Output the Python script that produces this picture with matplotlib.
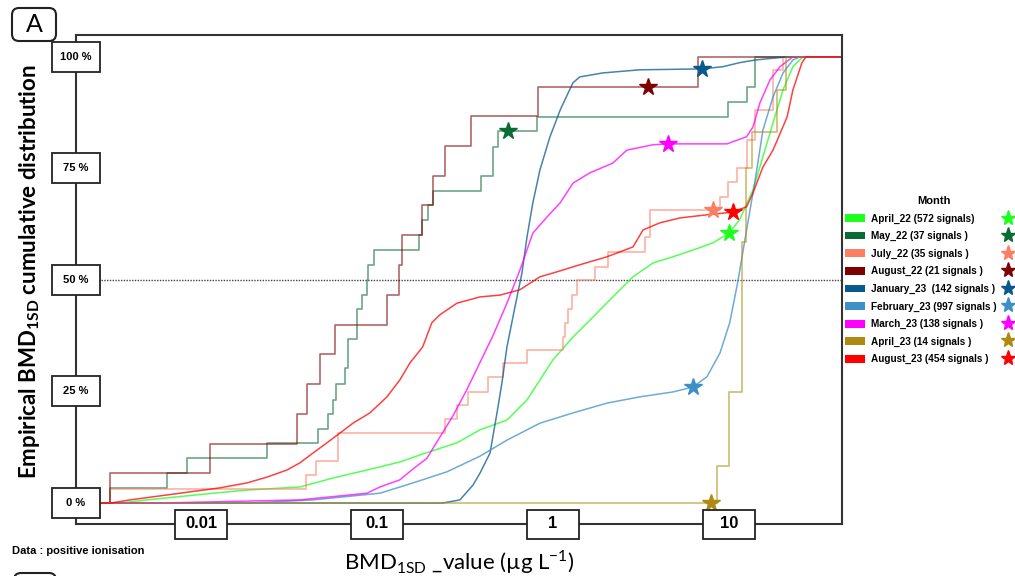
import matplotlib.pyplot as plt
import matplotlib.transforms as mtransforms
from matplotlib.patches import Rectangle, FancyBboxPatch, Patch
from matplotlib.lines import Line2D

# === Data: BMD_1SD value (ug/L) vs cumulative % ===
months = ["April_22 (572 signals)", "May_22 (37 signals )", "July_22 (35 signals )",
          "August_22 (21 signals )", "January_23  (142 signals )", "February_23 (997 signals )",
          "March_23 (138 signals )", "April_23 (14 signals )", "August_23 (454 signals )"]
colors = ["#1eff1e", "#0b6b35", "#fb7f62", "#7f0000", "#08598c",
          "#3d8fc6", "#ff00ff", "#b08a10", "#ff0000"]

apr22_x = [0.00347, 0.00493, 0.0117, 0.0182, 0.0365, 0.0562, 0.0877, 0.135, 0.176, 0.285, 0.385,
           0.548, 0.712, 0.844, 1.00, 1.30, 1.69, 2.19, 2.85, 3.70, 4.81, 6.24, 8.11, 10.0, 11.5,
           13.7, 15.6, 17.8, 20.3, 23.1, 26.3]
apr22_y = [0, 0.7, 2.2, 2.9, 3.6, 5.6, 7.4, 9.2, 10.8, 13.5, 16.4, 18.6, 23.1, 27.6, 32.1, 37.2,
           41.7, 46.2, 50.7, 53.8, 55.2, 56.7, 58.3, 60.5, 63.5, 70.2, 77.6, 85.2, 92.6, 97.8, 100]

may22_x = [0.00304, 0.00641, 0.00832, 0.0237, 0.0462, 0.0527, 0.0562, 0.0585, 0.0658, 0.0684,
           0.0770, 0.0822, 0.0877, 0.0889, 0.0962, 0.173, 0.180, 0.195, 0.208, 0.390, 0.456,
           0.487, 0.811, 9.87, 12.6, 14.1]
may22_y = [3.4, 6.7, 10.1, 13.5, 16.6, 20.0, 23.1, 26.7, 30.3, 36.8, 43.5, 46.6, 50.0, 53.4,
           56.7, 60.1, 63.5, 66.7, 70.0, 73.3, 79.8, 83.4, 86.5, 89.9, 93.3, 100]

jul22_x = [0.00304, 0.0395, 0.0450, 0.0600, 0.243, 0.285, 0.329, 0.428, 0.520, 0.712, 1.14, 1.17,
           1.22, 1.28, 1.37, 1.73, 2.05, 3.33, 3.56, 8.89, 9.87, 11.1, 12.6, 14.1, 17.8, 20.3]
jul22_y = [3.1, 6.3, 9.4, 15.7, 18.8, 22.0, 24.9, 28.3, 31.4, 34.3, 37.2, 40.4, 43.5, 46.6, 50.0,
           52.9, 56.3, 59.6, 65.7, 68.6, 72.0, 75.0, 81.4, 88.1, 97.0, 100]

aug22_x = [0.00304, 0.01125, 0.0351, 0.0400, 0.0474, 0.0577, 0.114, 0.133, 0.139, 0.180, 0.208,
           0.243, 0.342, 0.822, 6.67]
aug22_y = [6.7, 13.3, 20.0, 26.7, 33.3, 40.0, 46.7, 53.3, 60.0, 66.7, 73.3, 80.0, 86.7, 93.3, 100]

jan23_x = [0.237, 0.296, 0.351, 0.385, 0.439, 0.481, 0.513, 0.548, 0.608, 0.667, 0.712, 0.769,
           0.844, 0.962, 1.10, 1.22, 1.30, 1.42, 1.92, 3.12, 7.03, 9.25, 11.5, 14.1, 21.4]
jan23_y = [0, 0.7, 4.0, 6.7, 11.2, 20.2, 26.9, 35.0, 43.9, 51.6, 59.6, 67.3, 74.7, 82.1, 88.1,
           91.9, 94.2, 95.5, 96.4, 97.1, 97.3, 97.8, 98.7, 99.3, 100]

feb23_x = [0.0190, 0.0433, 0.104, 0.160, 0.250, 0.385, 0.548, 0.844, 1.30, 2.03, 3.12, 4.81, 6.24,
           7.50, 8.89, 10.1, 11.2, 12.6, 14.1, 15.6, 17.8, 20.3, 23.1, 25.3]
feb23_y = [0, 0.7, 2.2, 4.5, 7.0, 10.5, 14.1, 17.9, 20.2, 22.4, 23.8, 24.9, 26.0, 28.3, 33.6,
           40.4, 49.3, 61.2, 72.4, 83.6, 91.0, 96.4, 99.3, 100]

mar23_x = [0.00585, 0.0365, 0.0877, 0.104, 0.135, 0.160, 0.192, 0.228, 0.270, 0.325, 0.385, 0.456,
           0.548, 0.649, 0.769, 0.925, 1.10, 1.30, 1.62, 2.19, 2.63, 3.70, 4.50, 9.75, 12.6, 13.7,
           15.0, 17.1, 19.5, 23.1]
mar23_y = [0, 0.7, 2.2, 3.6, 5.2, 7.6, 10.0, 14.8, 19.5, 25.5, 31.5, 37.5, 44.8, 52.2, 60.5, 64.1,
           67.3, 71.7, 74.0, 76.2, 79.1, 80.3, 80.5, 80.5, 82.1, 84.3, 89.7, 94.8, 97.8, 100]

apr23_x = [8.55, 10.0, 11.9, 12.5, 13.5, 18.7, 21.1]
apr23_y = [8.3, 24.9, 58.5, 75.1, 83.2, 92.6, 100]

aug23_x = [0.00308, 0.00395, 0.0076, 0.0128, 0.0182, 0.0237, 0.0308, 0.0365, 0.0433, 0.0520,
           0.0617, 0.0731, 0.0912, 0.114, 0.135, 0.154, 0.182, 0.205, 0.228, 0.285, 0.385, 0.500,
           0.649, 0.844, 1.05, 1.42, 2.03, 2.85, 3.25, 4.05, 5.27, 7.50, 10.5, 12.6, 13.7, 15.6,
           17.8, 21.4, 23.1, 26.0, 27.4]
aug23_y = [0, 0.7, 2.2, 3.4, 4.5, 5.8, 7.4, 9.0, 11.2, 13.5, 15.7, 17.9, 20.2, 23.8, 27.6, 31.4,
           35.0, 40.4, 42.2, 44.8, 46.2, 46.6, 47.8, 50.7, 51.8, 53.4, 55.2, 57.4, 61.2, 62.8,
           63.9, 64.6, 65.2, 66.4, 69.5, 75.3, 79.1, 86.5, 92.6, 98.7, 100]

# star markers (one per month)
star_x = [10.0, 0.555, 8.11, 3.47, 7.03, 6.24, 4.50, 7.90, 10.5]
star_y = [60.5, 83.4, 65.7, 93.3, 97.3, 26.0, 80.5, 0, 65.2]

series_x = [apr22_x, may22_x, jul22_x, aug22_x, jan23_x, feb23_x, mar23_x, apr23_x, aug23_x]
series_y = [apr22_y, may22_y, jul22_y, aug22_y, jan23_y, feb23_y, mar23_y, apr23_y, aug23_y]
is_step = [False, True, True, True, False, False, False, True, False]

y_ticks = [0, 25, 50, 75, 100]
x_ticks = [0.01, 0.1, 1, 10]
x_ticklabels = ["0.01", "0.1", "1", "10"]

# === Figure ===
XMIN, XMAX = 0.00195, 43.9
fig = plt.figure(figsize=(10.15, 5.76), dpi=100)
ax = fig.add_axes([76 / 1015, 52 / 576, 766 / 1015, 489 / 576])
ax.set_xscale("log")
ax.set_xlim(XMIN, XMAX)
ax.set_ylim(-4.7, 104.9)

for xs, ys, c, st in zip(series_x, series_y, colors, is_step):
    xx = [XMIN] + xs + [XMAX]
    yy = [0] + ys + [100]
    if st:
        ax.plot(xx, yy, drawstyle="steps-post", color=c, lw=1.2, alpha=0.6, zorder=2)
    else:
        ax.plot(xx, yy, color=c, lw=1.1, alpha=0.75, zorder=2)

for sx, sy, c in zip(star_x, star_y, colors):
    ax.plot(sx, sy, marker="*", ms=13, color=c, ls="none", zorder=4, clip_on=False)

ax.axhline(50, color="#444444", lw=1.0, ls=(0, (1, 1)), zorder=1)

for s in ax.spines.values():
    s.set_color("#333333")
    s.set_linewidth(1.5)
ax.set_xticks([])
ax.set_yticks([])
ax.minorticks_off()


def tick_box(x, y, trans, text, w, h, fs):
    off = fig.dpi_scale_trans + mtransforms.ScaledTranslation(x, y, trans)
    ax.add_patch(Rectangle((-w / 2, -h / 2), w, h, transform=off, fc="white",
                           ec="#222222", lw=1.3, clip_on=False, zorder=6))
    ax.text(x, y, text, transform=trans, ha="center", va="center", fontsize=fs,
            fontweight="bold", family="Liberation Sans", zorder=7, clip_on=False)


for v in y_ticks:
    tick_box(0, v, ax.get_yaxis_transform(), f"{v} %", 0.48, 0.30, 8)
for v, lab in zip(x_ticks, x_ticklabels):
    tick_box(v, 0, ax.get_xaxis_transform(), lab, 0.52, 0.29, 12)

ax.set_ylabel("Empirical BMD$_{\\mathregular{1SD}}$ cumulative distribution",
              fontsize=16, fontweight="bold", family="Lato")
ax.yaxis.set_label_coords(-0.045, 0.515)
ax.set_xlabel("BMD$_{\\mathregular{1SD}}$ _value (µg L$^{\\mathregular{-1}}$)",
              fontsize=16, family="Lato")
ax.xaxis.set_label_coords(0.5, -0.05)

# panel letter and note
fig.patches.append(FancyBboxPatch((12, 576 - 41), 44, 33, boxstyle="round,pad=0,rounding_size=7",
                                  transform=mtransforms.IdentityTransform(), fc="white",
                                  ec="#222222", lw=1.5))
fig.text(34 / 1015, 1 - 24 / 576, "A", ha="center", va="center", fontsize=18, family="Lato")
fig.patches.append(FancyBboxPatch((14, 576 - 606), 42, 33, boxstyle="round,pad=0,rounding_size=7",
                                  transform=mtransforms.IdentityTransform(), fc="white",
                                  ec="#222222", lw=1.5))
fig.text(12 / 1015, 1 - 551 / 576, "Data : positive ionisation", ha="left", va="center",
         fontsize=8, fontweight="bold", family="Liberation Sans")

# legend: colour patches + labels, stars in a second column
handles = [Patch(fc=c, ec="none") for c in colors] + \
          [Line2D([], [], marker="*", ls="none", color=c, ms=11) for c in colors]
labels = months + [""] * len(months)
leg = fig.legend(handles, labels, ncol=2, loc="upper left", bbox_to_anchor=(845 / 1015, 1 - 196 / 576),
                 frameon=False, title="Month",
                 title_fontproperties={"family": "Liberation Sans", "weight": "bold", "size": 8},
                 prop={"family": "Liberation Sans", "weight": "bold", "size": 7.2},
                 handlelength=2.0, handleheight=0.8, handletextpad=0.6, columnspacing=0.1,
                 labelspacing=0.75, borderpad=0, borderaxespad=0)

fig.savefig("out.png", dpi=100)
